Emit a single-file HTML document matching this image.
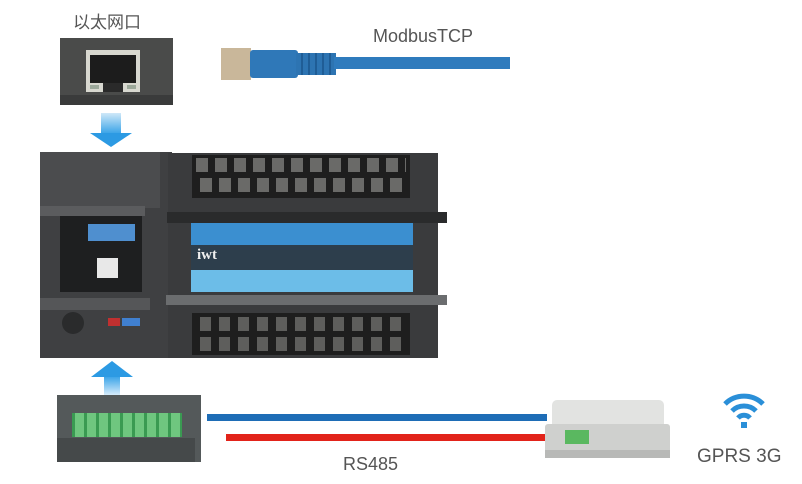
<!DOCTYPE html>
<html><head><meta charset="utf-8"><style>
body{margin:0;width:802px;height:484px;background:#fff;position:relative;overflow:hidden;font-family:"Liberation Sans","Noto Sans CJK SC",sans-serif}
.a{position:absolute}
.t{color:#555}
</style></head><body>
<div class="a t" style="left:73px;top:8px;font-size:17px;">以太网口</div>
<div class="a t" style="left:373px;top:26px;font-size:18px;">ModbusTCP</div>
<!-- ethernet port photo -->
<div class="a" style="left:60px;top:38px;width:113px;height:67px;background:#4a4b4a"></div>
<div class="a" style="left:60px;top:95px;width:113px;height:10px;background:#3a3b3b"></div>
<div class="a" style="left:86px;top:50px;width:54px;height:42px;background:#d8d8d0"></div>
<div class="a" style="left:90px;top:55px;width:46px;height:28px;background:#1c1c1c"></div>
<div class="a" style="left:103px;top:83px;width:20px;height:9px;background:#2a2a2a"></div>
<div class="a" style="left:90px;top:85px;width:9px;height:4px;background:#9ca89a"></div>
<div class="a" style="left:127px;top:85px;width:9px;height:4px;background:#9ca89a"></div>
<!-- cable -->
<div class="a" style="left:221px;top:48px;width:30px;height:32px;background:#c9b79a"></div>
<div class="a" style="left:250px;top:50px;width:48px;height:28px;background:#2f78b8;border-radius:3px"></div>
<div class="a" style="left:296px;top:53px;width:40px;height:22px;background:repeating-linear-gradient(90deg,#2d74b2 0 5px,#1f5d96 5px 7px)"></div>
<div class="a" style="left:334px;top:57px;width:176px;height:12px;background:#2f7bbd"></div>
<!-- down arrow -->
<div class="a" style="left:101px;top:113px;width:20px;height:20px;background:linear-gradient(#cfe8f8,#3da5e8)"></div>
<div class="a" style="left:90px;top:133px;width:0;height:0;border-left:21px solid transparent;border-right:21px solid transparent;border-top:14px solid #2c9ae3"></div>
<!-- PLC left module -->
<div class="a" style="left:40px;top:152px;width:132px;height:206px;background:#3f4042"></div>
<div class="a" style="left:40px;top:152px;width:120px;height:56px;background:#4b4c4e"></div>
<div class="a" style="left:40px;top:206px;width:105px;height:10px;background:#5b5c5e"></div>
<div class="a" style="left:60px;top:216px;width:82px;height:76px;background:#1e1f20"></div>
<div class="a" style="left:88px;top:224px;width:47px;height:17px;background:#4f8fcf"></div>
<div class="a" style="left:97px;top:258px;width:21px;height:20px;background:#e8e8e8"></div>
<div class="a" style="left:40px;top:298px;width:110px;height:12px;background:#555658"></div>
<div class="a" style="left:62px;top:312px;width:22px;height:22px;border-radius:50%;background:#2a2b2c"></div>
<div class="a" style="left:108px;top:318px;width:12px;height:8px;background:#c03030"></div>
<div class="a" style="left:122px;top:318px;width:18px;height:8px;background:#4080d0"></div>
<!-- PLC right module -->
<div class="a" style="left:168px;top:153px;width:270px;height:205px;background:#3a3b3d"></div>
<div class="a" style="left:192px;top:155px;width:218px;height:43px;background:#1e1e1e"></div>
<div class="a" style="left:196px;top:158px;width:210px;height:14px;background:repeating-linear-gradient(90deg,#6a6a68 0 12px,transparent 12px 19px)"></div>
<div class="a" style="left:200px;top:178px;width:206px;height:14px;background:repeating-linear-gradient(90deg,#6a6a68 0 12px,transparent 12px 19px)"></div>
<div class="a" style="left:167px;top:212px;width:280px;height:11px;background:#2a2b2c"></div>
<div class="a" style="left:191px;top:223px;width:222px;height:22px;background:#3b8fd0"></div>
<div class="a" style="left:191px;top:245px;width:222px;height:25px;background:#2d3e4c"></div>
<div class="a" style="left:197px;top:247px;color:#eee;font-size:15px;font-weight:bold;font-family:'Liberation Serif',serif">iwt</div>
<div class="a" style="left:191px;top:270px;width:222px;height:22px;background:#6cbde8"></div>
<div class="a" style="left:166px;top:295px;width:281px;height:10px;background:#6b6d6f"></div>
<div class="a" style="left:192px;top:313px;width:218px;height:42px;background:#1e1e1e"></div>
<div class="a" style="left:200px;top:317px;width:206px;height:14px;background:repeating-linear-gradient(90deg,#5e5e5c 0 11px,transparent 11px 19px)"></div>
<div class="a" style="left:200px;top:337px;width:206px;height:14px;background:repeating-linear-gradient(90deg,#5e5e5c 0 11px,transparent 11px 19px)"></div>
<!-- up arrow -->
<div class="a" style="left:91px;top:361px;width:0;height:0;border-left:21px solid transparent;border-right:21px solid transparent;border-bottom:16px solid #2c9ae3"></div>
<div class="a" style="left:104px;top:377px;width:16px;height:18px;background:linear-gradient(#3da5e8,#d6ecfa)"></div>
<!-- connector photo -->
<div class="a" style="left:57px;top:395px;width:144px;height:67px;background:#54595a"></div>
<div class="a" style="left:57px;top:438px;width:138px;height:24px;background:#45494a"></div>
<div class="a" style="left:72px;top:413px;width:110px;height:24px;background:repeating-linear-gradient(90deg,#3a9a52 0 3px,#6fc67f 3px 12px)"></div>
<!-- lines -->
<div class="a" style="left:207px;top:414px;width:340px;height:7px;background:#1e6db6"></div>
<div class="a" style="left:226px;top:434px;width:320px;height:7px;background:#e2231a"></div>
<div class="a t" style="left:343px;top:454px;font-size:18px;">RS485</div>
<!-- gateway -->
<div class="a" style="left:552px;top:400px;width:112px;height:30px;background:#e2e3e1;border-radius:5px 5px 0 0"></div>
<div class="a" style="left:545px;top:424px;width:125px;height:32px;background:#cfd0ce;border-radius:3px"></div>
<div class="a" style="left:545px;top:450px;width:125px;height:8px;background:#b8b9b7"></div>
<div class="a" style="left:565px;top:430px;width:24px;height:14px;background:#5ab860"></div>
<!-- wifi -->
<svg class="a" style="left:722px;top:391px" width="44" height="40" viewBox="0 0 44 40">
<path d="M3 13 A27 27 0 0 1 41 13" stroke="#2a8fd8" stroke-width="5" fill="none"/>
<path d="M10 20 A17 17 0 0 1 34 20" stroke="#2a8fd8" stroke-width="5" fill="none"/>
<path d="M16 27 A8 8 0 0 1 28 27" stroke="#2a8fd8" stroke-width="5" fill="none"/>
<rect x="19" y="31" width="6" height="6" fill="#2a8fd8"/>
</svg>
<div class="a t" style="left:697px;top:446px;font-size:19px;">GPRS 3G</div>
</body></html>
